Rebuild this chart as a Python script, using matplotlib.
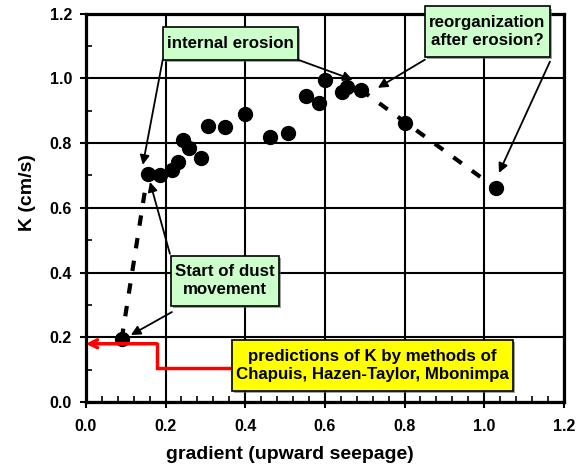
import matplotlib
matplotlib.use("Agg")
import matplotlib.pyplot as plt
from matplotlib.ticker import MultipleLocator
from matplotlib import patheffects as pe

plt.rcParams['font.family'] = ['Liberation Sans', 'DejaVu Sans']
plt.rcParams['font.weight'] = 'bold'

# data
gradient = [0.09, 0.155, 0.186, 0.216, 0.231, 0.244, 0.26, 0.29, 0.306, 0.35, 0.40,
            0.462, 0.507, 0.552, 0.585, 0.60, 0.643, 0.655, 0.69, 0.80, 1.03]
K = [0.195, 0.705, 0.70, 0.717, 0.742, 0.81, 0.785, 0.754, 0.853, 0.85, 0.89,
     0.82, 0.83, 0.945, 0.925, 0.995, 0.958, 0.972, 0.965, 0.862, 0.66]

trend1_x = [0.09, 0.155]
trend1_y = [0.195, 0.705]
trend2_x = [0.69, 1.03]
trend2_y = [0.965, 0.66]

pred_path_x = [0.36, 0.178, 0.178]
pred_path_y = [0.105, 0.105, 0.18]
pred_K = 0.18

xticks = [0.0, 0.2, 0.4, 0.6, 0.8, 1.0, 1.2]
yticks = [0.0, 0.2, 0.4, 0.6, 0.8, 1.0, 1.2]

fig = plt.figure(figsize=(5.88, 4.65), dpi=100)
ax = fig.add_axes([0.146, 0.1355, 0.813, 0.835])

ax.set_xlim(0, 1.2)
ax.set_ylim(0, 1.2)
ax.set_xticks(xticks)
ax.set_yticks(yticks)
ax.set_xticklabels([f"{v:.1f}" for v in xticks])
ax.set_yticklabels([f"{v:.1f}" for v in yticks])
ax.xaxis.set_minor_locator(MultipleLocator(0.04))
ax.yaxis.set_minor_locator(MultipleLocator(0.1))
ax.grid(True, which='major', color='black', linewidth=1.5)
ax.set_axisbelow(True)
ax.tick_params(which='major', direction='out', length=4, width=1.5, labelsize=11.5)
ax.tick_params(axis='x', which='major', pad=8)
ax.tick_params(axis='y', which='major', pad=6)
ax.tick_params(which='minor', direction='in', length=4, width=1.2)
for s in ax.spines.values():
    s.set_linewidth(2.3)

ax.plot(trend1_x, trend1_y, color='black', lw=3, dashes=(2.5, 3), zorder=3)
ax.plot(trend2_x, trend2_y, color='black', lw=3, dashes=(2.5, 3), zorder=3)
ax.plot(gradient, K, 'o', color='black', markersize=10, zorder=4)

ax.set_xlabel('gradient (upward seepage)', fontsize=14, fontweight='bold')
ax.set_ylabel('K (cm/s)', fontsize=14, fontweight='bold')
ax.xaxis.set_label_coords(0.427, -0.134)
ax.xaxis.label.set_va('center')
ax.yaxis.set_label_coords(-0.122, 0.54)
ax.yaxis.label.set_va('center')

# red prediction marker
ax.plot(pred_path_x, pred_path_y, color='red', lw=2.5, zorder=5, solid_joinstyle='miter')
ax.annotate('', xy=(0.0, pred_K), xytext=(pred_path_x[-1], pred_K),
            arrowprops=dict(arrowstyle='->', color='red', lw=2.5, mutation_scale=14,
                            shrinkA=0, shrinkB=0), zorder=5)

green = '#CCFFCC'
arrow_kw = dict(arrowstyle='-|>', color='black', lw=1.3, mutation_scale=14, shrinkA=0, shrinkB=0)
fs = 12.2
shadow = [pe.SimplePatchShadow(offset=(1.5, -1.5), shadow_rgbFace='#666666', alpha=0.6), pe.Normal()]


def box(x, y, s, face=green):
    t = ax.text(x, y, s, fontsize=fs, fontweight='bold', ha='center', va='center',
                zorder=6, linespacing=1.25,
                bbox=dict(boxstyle='square,pad=0.25', facecolor=face, edgecolor='black',
                          linewidth=1.2, mutation_aspect=2.1))
    t.get_bbox_patch().set_path_effects(shadow)
    return t


box(0.363, 1.107, 'internal erosion')
ax.annotate('', xy=(0.143, 0.733), xytext=(0.193, 1.058), arrowprops=arrow_kw, zorder=6)
ax.annotate('', xy=(0.670, 0.996), xytext=(0.532, 1.058), arrowprops=arrow_kw, zorder=6)

box(1.008, 1.144, 'reorganization\nafter erosion?')
ax.annotate('', xy=(0.733, 0.971), xytext=(0.851, 1.058), arrowprops=arrow_kw, zorder=6)
ax.annotate('', xy=(1.037, 0.708), xytext=(1.165, 1.052), arrowprops=arrow_kw, zorder=6,
            annotation_clip=False)

box(0.349, 0.374, 'Start of dust\nmovement')
ax.annotate('', xy=(0.161, 0.680), xytext=(0.211, 0.458), arrowprops=arrow_kw, zorder=6)
ax.annotate('', xy=(0.113, 0.207), xytext=(0.216, 0.278), arrowprops=arrow_kw, zorder=6)

box(0.719, 0.113, 'predictions of K by methods of\nChapuis, Hazen-Taylor, Mbonimpa', face='#FFFF00')

fig.savefig('out.png', dpi=100)
